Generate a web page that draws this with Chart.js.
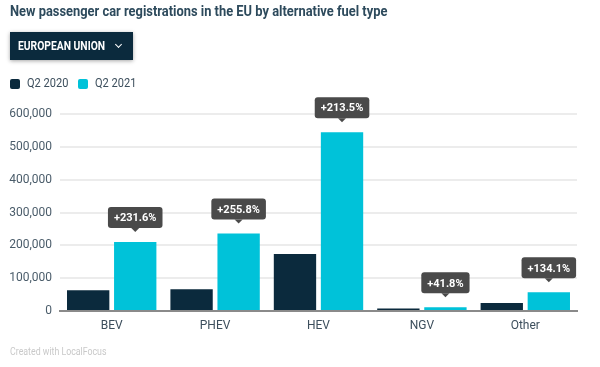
<!DOCTYPE html>
<html>
<head>
<meta charset="utf-8">
<script src="https://cdn.jsdelivr.net/npm/chart.js@4.4.0/dist/chart.umd.min.js"></script>
<style>
  body { margin: 0; background: #fff; font-family: Roboto, sans-serif; }
  #wrap { position: relative; width: 600px; height: 367px; overflow: hidden; }
  #title { position: absolute; left: 10px; top: 3px; font-size: 14px; font-weight: bold; color: #2d4a5c;
    transform: scaleX(0.92); transform-origin: left top; white-space: nowrap; }
  #btn { position: absolute; left: 10px; top: 32px; width: 123px; height: 28px; background: #0b2a3d;
    box-shadow: 0 1px 4px rgba(0,0,0,0.35); color: #fff; font-size: 12px; font-weight: bold; line-height: 28px; }
  #btn span { display: inline-block; transform: scaleX(0.86); transform-origin: left center; margin-left: 8px; white-space: nowrap; }
  #chev { position: absolute; left: 106px; top: 10px; width: 4px; height: 4px; border-right: 1.5px solid #fff; border-bottom: 1.5px solid #fff; transform: rotate(45deg); }
  #legend { position: absolute; left: 10px; top: 76px; font-size: 12px; color: #3c4e5c; }
  .item { position: absolute; white-space: nowrap; }
  .sw { position: absolute; top: 3px; width: 10px; height: 10px; border-radius: 2px; }
  .lt { display: inline-block; margin-left: 17px; transform: scaleX(0.92); transform-origin: left center; }
  #foot { position: absolute; left: 10px; top: 346px; font-size: 10px; color: #c9c9c9; transform: scaleX(0.88); transform-origin: left top; }
  canvas { position: absolute; left: 0; top: 0; }
</style>
</head>
<body>
<div id="wrap">
  <canvas id="myChart" width="600" height="367"></canvas>
  <div id="title">New passenger car registrations in the EU by alternative fuel type</div>
  <div id="btn"><span>EUROPEAN UNION</span><div id="chev"></div></div>
  <div id="legend">
    <div class="item" style="left:0"><div class="sw" style="background:#0b2a3d"></div><span class="lt">Q2 2020</span></div>
    <div class="item" style="left:68px"><div class="sw" style="background:#00c2d9"></div><span class="lt">Q2 2021</span></div>
  </div>
  <div id="foot">Created with LocalFocus</div>
</div>
<script>
var fuelTypes = ['BEV', 'PHEV', 'HEV', 'NGV', 'Other'];
var q2_2020 = [63400, 66300, 173700, 7800, 24300];
var q2_2021 = [210300, 235900, 544600, 11060, 56900];
var changeLabels = ['+231.6%', '+255.8%', '+213.5%', '+41.8%', '+134.1%'];
var yTicks = [0, 100000, 200000, 300000, 400000, 500000, 600000];

// little grey boxes with the change above each 2021 bar
var changeBoxes = {
	id: 'changeBoxes',
	afterDatasetsDraw: function(chart) {
		var ctx = chart.ctx;
		var bars = chart.getDatasetMeta(1).data;
		ctx.save();
		ctx.font = 'bold 11px Roboto';
		for (var i = 0; i < bars.length; i++) {
			var b = bars[i];
			var text = changeLabels[i];
			var w = ctx.measureText(text).width + 12;
			var h = 21;
			var tipY = b.y - 10;
			var boxB = tipY - 4;
			var x0 = b.x - w / 2;
			ctx.fillStyle = '#4a4a4a';
			ctx.beginPath();
			ctx.roundRect(x0, boxB - h, w, h, 3);
			ctx.fill();
			ctx.beginPath();
			ctx.moveTo(b.x - 4, boxB);
			ctx.lineTo(b.x + 4, boxB);
			ctx.lineTo(b.x, tipY);
			ctx.closePath();
			ctx.fill();
			ctx.fillStyle = '#fff';
			ctx.textAlign = 'center';
			ctx.textBaseline = 'middle';
			ctx.fillText(text, b.x, boxB - h / 2 + 1);
		}
		ctx.restore();
	}
};

var ctx = document.getElementById('myChart').getContext('2d');
var chart = new Chart(ctx, {
	type: 'bar',
	data: {
		labels: fuelTypes,
		datasets: [{
			label: 'Q2 2020',
			data: q2_2020,
			backgroundColor: '#0b2a3d'
		}, {
			label: 'Q2 2021',
			data: q2_2021,
			backgroundColor: '#00c2d9'
		}]
	},
	plugins: [changeBoxes],
	options: {
		responsive: false,
		animation: false,
		layout: { padding: { left: 0, right: 23, top: 114, bottom: 0 } },
		categoryPercentage: 0.91,
		barPercentage: 0.9,
		plugins: { legend: { display: false }, tooltip: { enabled: false } },
		scales: {
			x: {
				grid: { display: false },
				border: { color: '#8a8a8a', width: 2 },
				ticks: { color: '#3c4e5c', font: { family: 'Roboto', size: 12 }, padding: 0 },
				afterFit: function(s) { s.height = 56; }
			},
			y: {
				min: 0,
				max: 600000,
				afterBuildTicks: function(s) { s.ticks = yTicks.map(function(v) { return { value: v }; }); },
				grid: { color: '#ececec', lineWidth: 2, drawTicks: false },
				border: { display: false },
				ticks: {
					color: '#4a5c6a',
					font: { family: 'Roboto', size: 12 },
					padding: 8,
					callback: function(v) { return v.toLocaleString('en-US'); }
				},
				afterFit: function(s) { s.width = 60; }
			}
		}
	}
});
</script>
</body>
</html>
